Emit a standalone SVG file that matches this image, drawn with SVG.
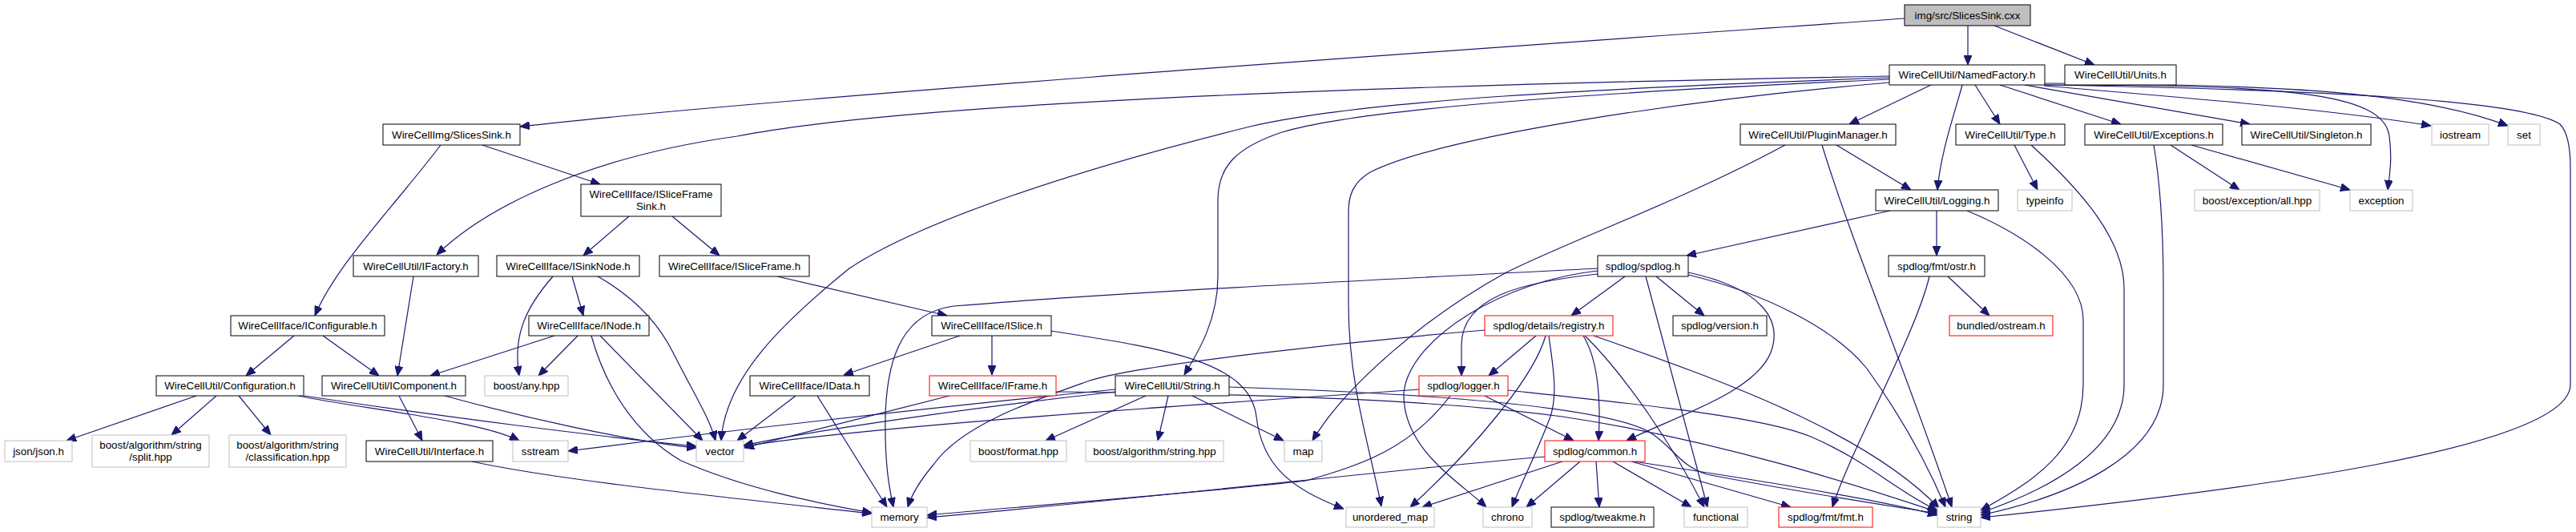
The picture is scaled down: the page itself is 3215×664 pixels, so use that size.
<svg xmlns="http://www.w3.org/2000/svg" width="3215" height="664" viewBox="0 0 3215 664">
<style>
text{font-family:"Liberation Sans",Arial,sans-serif;font-size:13.33px;fill:#000;text-anchor:middle}
.nd rect{fill:#fff;stroke:#000;stroke-width:1}
.gr rect{fill:#fff;stroke:#bfbfbf;stroke-width:1}
.rd rect{fill:#fff;stroke:#ff0000;stroke-width:1}
.rt rect{fill:#bfbfbf;stroke:#000;stroke-width:1}
#edges path{fill:none;stroke:#191970;stroke-width:1.2;marker-end:url(#ah)}
</style>
<defs>
<marker id="ah" viewBox="0 0 12 10" refX="12" refY="5" markerWidth="12" markerHeight="10" orient="auto" markerUnits="userSpaceOnUse"><path d="M0,0L12,5L0,10z" fill="#191970" stroke="#191970"/></marker>
</defs>
<rect width="3215" height="664" fill="#fff"/>
<g id="edges">
<path d="M2456,32L2456,81"/>
<path d="M2489,32L2614,81"/>
<path d="M2377,23C2000,50 1000,118 649,158"/>
<path d="M2358,95C1800,105 1150,125 920,170C740,195 610,255 545,318"/>
<path d="M2358,97C2000,110 1700,125 1560,158C1350,210 1150,275 1060,335C980,400 905,470 900,550"/>
<path d="M2358,99C2000,115 1700,135 1600,165C1540,185 1520,210 1520,250L1520,345C1520,400 1495,440 1478,468"/>
<path d="M2358,103C2100,125 1800,170 1710,215C1688,228 1683,245 1683,265L1683,380C1683,480 1710,560 1724,632"/>
<path d="M2410,106L2308,155"/>
<path d="M2449,106C2440,140 2422,190 2418,237"/>
<path d="M2465,106L2496,155"/>
<path d="M2496,106L2647,155"/>
<path d="M2527,106L2808,155"/>
<path d="M2551,107C2700,120 2900,135 3034,157"/>
<path d="M2552,104C2850,105 3020,115 3130,157"/>
<path d="M2552,106C2850,106 2975,115 2982,170C2986,200 2982,220 2980,237"/>
<path d="M2552,106C2900,112 3150,125 3195,155C3205,165 3208,185 3208,210L3208,480C3208,560 2800,612 2472,646"/>
<path d="M2228,181C2100,250 1960,300 1880,340C1780,395 1680,480 1638,550"/>
<path d="M2292,181L2385,237"/>
<path d="M2274,181C2310,300 2385,480 2436,633"/>
<path d="M2359,263L2105,319"/>
<path d="M2417,263L2417,319"/>
<path d="M2455,263C2520,290 2600,340 2600,400L2600,480C2600,560 2540,600 2472,637"/>
<path d="M2514,181L2543,237"/>
<path d="M2535,181C2600,240 2651,300 2651,360L2651,480C2651,560 2560,610 2472,640"/>
<path d="M2709,181L2795,237"/>
<path d="M2735,181L2933,237"/>
<path d="M2688,181C2698,240 2700,300 2700,360L2700,480C2700,570 2580,620 2472,643"/>
<path d="M2028,345L1961,394"/>
<path d="M1994,342C1900,352 1825,370 1824,430L1824,469"/>
<path d="M2067,345L2127,394"/>
<path d="M2107,340C2200,360 2225,400 2210,440C2190,490 2090,520 2030,550"/>
<path d="M1994,338C1880,350 1760,420 1752,490C1750,560 1820,600 1855,633"/>
<path d="M2054,345L2131,633"/>
<path d="M1994,335C1700,350 1400,365 1190,382C1130,390 1107,440 1105,520C1104,580 1110,610 1115,633"/>
<path d="M2107,343C2200,365 2290,410 2330,460C2380,530 2410,590 2428,633"/>
<path d="M1917,419L1858,469"/>
<path d="M1929,419C1915,470 1840,560 1760,633"/>
<path d="M1933,419C1937,450 1945,490 1935,520C1920,560 1900,600 1887,633"/>
<path d="M1976,419C1995,450 1998,500 1995,550"/>
<path d="M1978,419C2030,470 2090,560 2127,633"/>
<path d="M1989,419C2150,475 2330,540 2420,634"/>
<path d="M1853,412C1700,425 1420,455 1360,475C1290,500 1200,530 1165,580C1148,600 1137,620 1133,633"/>
<path d="M1853,494L1964,550"/>
<path d="M1771,486C1500,505 1100,530 928,557"/>
<path d="M1810,494C1760,560 1700,580 1630,600C1500,615 1300,630 1157,643"/>
<path d="M1882,487C2050,505 2200,520 2260,545C2330,575 2370,615 2418,637"/>
<path d="M1928,570C1800,580 1400,625 1157,646"/>
<path d="M1950,576L1775,633"/>
<path d="M1972,576L1905,633"/>
<path d="M1992,576L1996,633"/>
<path d="M2013,576L2111,633"/>
<path d="M2036,576L2235,633"/>
<path d="M2039,576C2200,600 2350,625 2418,643"/>
<path d="M1430,494L1305,550"/>
<path d="M1458,494L1445,550"/>
<path d="M1488,494L1602,550"/>
<path d="M1392,489C1200,510 1000,540 928,556"/>
<path d="M1392,486C1100,515 850,545 709,563"/>
<path d="M1534,483C1750,490 2000,505 2060,540C2090,560 2095,580 2130,592C2250,615 2350,630 2418,641"/>
<path d="M1318,489C1600,492 1800,500 1950,520C2150,550 2330,610 2418,639"/>
<path d="M1185,494L929,559"/>
<path d="M1198,419L1053,468"/>
<path d="M1238,419L1238,468"/>
<path d="M1312,413C1450,435 1560,450 1568,520C1575,580 1610,610 1677,635"/>
<path d="M970,345L1182,394"/>
<path d="M785,270L728,319"/>
<path d="M839,270L898,319"/>
<path d="M602,181L749,230"/>
<path d="M550,181C490,260 420,330 393,394"/>
<path d="M714,345L728,394"/>
<path d="M690,345C655,385 640,420 648,469"/>
<path d="M746,345C790,370 820,400 840,440C865,490 885,520 893,550"/>
<path d="M692,419L537,469"/>
<path d="M721,419L672,469"/>
<path d="M749,419L877,550"/>
<path d="M738,419C755,480 790,540 850,575C930,610 1020,628 1088,640"/>
<path d="M516,345L496,469"/>
<path d="M367,419L307,469"/>
<path d="M403,419L473,469"/>
<path d="M245,494L83,550"/>
<path d="M270,494L214,543"/>
<path d="M298,494L338,543"/>
<path d="M372,494C450,510 600,525 648,550"/>
<path d="M380,494C550,520 750,545 869,557"/>
<path d="M498,494L527,550"/>
<path d="M555,494C650,520 780,550 869,559"/>
<path d="M589,576C700,600 900,620 1088,641"/>
<path d="M993,494L920,550"/>
<path d="M1020,494L1107,633"/>
<path d="M2431,345L2483,394"/>
<path d="M2408,345C2390,420 2310,560 2287,633"/>
</g>
<g id="n_cxx" class="rt"><rect x="2377" y="6" width="157" height="26"/><text x="2455.5" y="23.5">img/src/SlicesSink.cxx</text></g>
<g id="n_namedfactory" class="nd"><rect x="2358" y="81" width="194" height="25"/><text x="2455" y="98">WireCellUtil/NamedFactory.h</text></g>
<g id="n_units" class="nd"><rect x="2577" y="81" width="139" height="25"/><text x="2646.5" y="98">WireCellUtil/Units.h</text></g>
<g id="n_slicessink" class="nd"><rect x="478" y="155" width="171" height="26"/><text x="563.5" y="172.5">WireCellImg/SlicesSink.h</text></g>
<g id="n_pluginmanager" class="nd"><rect x="2172" y="155" width="194" height="26"/><text x="2269" y="172.5">WireCellUtil/PluginManager.h</text></g>
<g id="n_type" class="nd"><rect x="2441" y="155" width="136" height="26"/><text x="2509" y="172.5">WireCellUtil/Type.h</text></g>
<g id="n_exceptions" class="nd"><rect x="2602" y="155" width="172" height="26"/><text x="2688" y="172.5">WireCellUtil/Exceptions.h</text></g>
<g id="n_singleton" class="nd"><rect x="2798" y="155" width="161" height="26"/><text x="2878.5" y="172.5">WireCellUtil/Singleton.h</text></g>
<g id="n_iostream" class="gr"><rect x="3035" y="155" width="71" height="26"/><text x="3070.5" y="172.5">iostream</text></g>
<g id="n_set" class="gr"><rect x="3130" y="155" width="40" height="26"/><text x="3150" y="172.5">set</text></g>
<g id="n_islfsink" class="nd"><rect x="725" y="230" width="175" height="40"/><text x="812.5" y="246.5">WireCellIface/ISliceFrame</text><text x="812.5" y="261.5">Sink.h</text></g>
<g id="n_logging" class="nd"><rect x="2341" y="237" width="153" height="26"/><text x="2417.5" y="254.5">WireCellUtil/Logging.h</text></g>
<g id="n_typeinfo" class="gr"><rect x="2518" y="237" width="68" height="26"/><text x="2552" y="254.5">typeinfo</text></g>
<g id="n_boostexc" class="gr"><rect x="2739" y="237" width="156" height="26"/><text x="2817" y="254.5">boost/exception/all.hpp</text></g>
<g id="n_exception" class="gr"><rect x="2933" y="237" width="78" height="26"/><text x="2972" y="254.5">exception</text></g>
<g id="n_ifactory" class="nd"><rect x="441" y="319" width="156" height="26"/><text x="519" y="336.5">WireCellUtil/IFactory.h</text></g>
<g id="n_isinknode" class="nd"><rect x="620" y="319" width="178" height="26"/><text x="709" y="336.5">WireCellIface/ISinkNode.h</text></g>
<g id="n_isliceframe" class="nd"><rect x="823" y="319" width="187" height="26"/><text x="916.5" y="336.5">WireCellIface/ISliceFrame.h</text></g>
<g id="n_spdlog" class="nd"><rect x="1994" y="319" width="113" height="26"/><text x="2050.5" y="336.5">spdlog/spdlog.h</text></g>
<g id="n_ostr" class="nd"><rect x="2357" y="319" width="120" height="26"/><text x="2417" y="336.5">spdlog/fmt/ostr.h</text></g>
<g id="n_iconfigurable" class="nd"><rect x="288" y="394" width="192" height="25"/><text x="384" y="411">WireCellIface/IConfigurable.h</text></g>
<g id="n_inode" class="nd"><rect x="660" y="394" width="150" height="25"/><text x="735" y="411">WireCellIface/INode.h</text></g>
<g id="n_islice" class="nd"><rect x="1163" y="394" width="149" height="25"/><text x="1237.5" y="411">WireCellIface/ISlice.h</text></g>
<g id="n_registry" class="rd"><rect x="1853" y="394" width="160" height="25"/><text x="1933" y="411">spdlog/details/registry.h</text></g>
<g id="n_version" class="nd"><rect x="2088" y="394" width="117" height="25"/><text x="2146.5" y="411">spdlog/version.h</text></g>
<g id="n_bundled" class="rd"><rect x="2433" y="394" width="129" height="25"/><text x="2497.5" y="411">bundled/ostream.h</text></g>
<g id="n_configuration" class="nd"><rect x="195" y="469" width="184" height="25"/><text x="287" y="486">WireCellUtil/Configuration.h</text></g>
<g id="n_icomponent" class="nd"><rect x="402" y="469" width="179" height="25"/><text x="491.5" y="486">WireCellUtil/IComponent.h</text></g>
<g id="n_anyhpp" class="gr"><rect x="605" y="469" width="104" height="25"/><text x="657" y="486">boost/any.hpp</text></g>
<g id="n_idata" class="nd"><rect x="936" y="469" width="149" height="25"/><text x="1010.5" y="486">WireCellIface/IData.h</text></g>
<g id="n_iframe" class="rd"><rect x="1160" y="469" width="158" height="25"/><text x="1239" y="486">WireCellIface/IFrame.h</text></g>
<g id="n_string_h" class="nd"><rect x="1392" y="469" width="142" height="25"/><text x="1463" y="486">WireCellUtil/String.h</text></g>
<g id="n_logger" class="rd"><rect x="1771" y="469" width="111" height="25"/><text x="1826.5" y="486">spdlog/logger.h</text></g>
<g id="n_json" class="gr"><rect x="6" y="550" width="84" height="26"/><text x="48" y="567.5">json/json.h</text></g>
<g id="n_split" class="gr"><rect x="115" y="543" width="146" height="40"/><text x="188" y="559.5">boost/algorithm/string</text><text x="188" y="574.5">/split.hpp</text></g>
<g id="n_classification" class="gr"><rect x="286" y="543" width="146" height="40"/><text x="359" y="559.5">boost/algorithm/string</text><text x="359" y="574.5">/classification.hpp</text></g>
<g id="n_interface" class="nd"><rect x="457" y="550" width="158" height="26"/><text x="536" y="567.5">WireCellUtil/Interface.h</text></g>
<g id="n_sstream" class="gr"><rect x="640" y="550" width="69" height="26"/><text x="674.5" y="567.5">sstream</text></g>
<g id="n_vector" class="gr"><rect x="869" y="550" width="59" height="26"/><text x="898.5" y="567.5">vector</text></g>
<g id="n_bformat" class="gr"><rect x="1211" y="550" width="120" height="26"/><text x="1271" y="567.5">boost/format.hpp</text></g>
<g id="n_balgo" class="gr"><rect x="1355" y="550" width="172" height="26"/><text x="1441" y="567.5">boost/algorithm/string.hpp</text></g>
<g id="n_map" class="gr"><rect x="1603" y="550" width="47" height="26"/><text x="1626.5" y="567.5">map</text></g>
<g id="n_common" class="rd"><rect x="1928" y="550" width="125" height="26"/><text x="1990.5" y="567.5">spdlog/common.h</text></g>
<g id="n_memory" class="gr"><rect x="1088" y="633" width="69" height="25"/><text x="1122.5" y="650">memory</text></g>
<g id="n_umap" class="gr"><rect x="1680" y="633" width="110" height="25"/><text x="1735" y="650">unordered_map</text></g>
<g id="n_chrono" class="gr"><rect x="1851" y="633" width="61" height="25"/><text x="1881.5" y="650">chrono</text></g>
<g id="n_tweakme" class="nd"><rect x="1936" y="633" width="128" height="25"/><text x="2000" y="650">spdlog/tweakme.h</text></g>
<g id="n_functional" class="gr"><rect x="2102" y="633" width="79" height="25"/><text x="2141.5" y="650">functional</text></g>
<g id="n_fmt" class="rd"><rect x="2220" y="633" width="117" height="25"/><text x="2278.5" y="650">spdlog/fmt/fmt.h</text></g>
<g id="n_string" class="gr"><rect x="2418" y="633" width="54" height="25"/><text x="2445" y="650">string</text></g>
</svg>
